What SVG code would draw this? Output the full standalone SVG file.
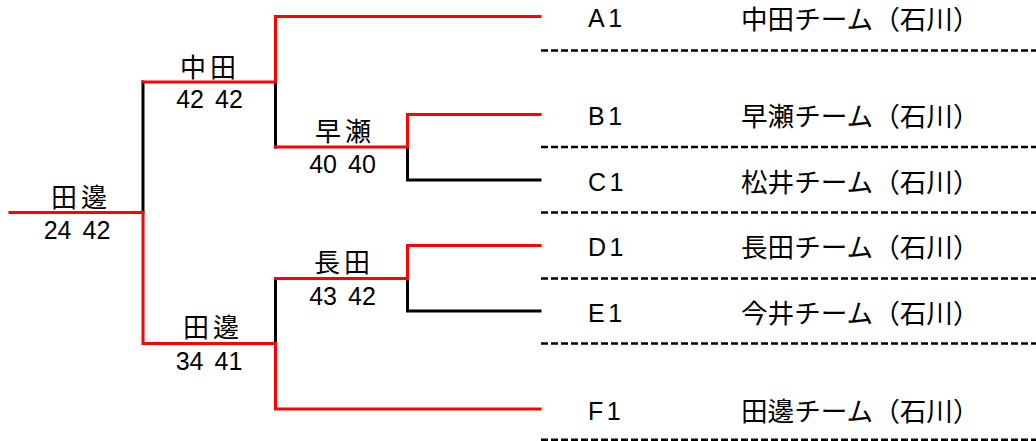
<svg xmlns="http://www.w3.org/2000/svg" width="1036" height="441" viewBox="0 0 1036 441">
<style>
.r{stroke:#FF0000;stroke-width:3;fill:none;stroke-linecap:square}
.k{stroke:#000000;stroke-width:3;fill:none;stroke-linecap:square}
.d{stroke:#000000;stroke-width:2.5;fill:none;stroke-dasharray:7 3}
.nm{font-family:"Liberation Sans","Noto Sans CJK JP",sans-serif;font-size:26px;letter-spacing:4px;text-anchor:middle;fill:#000}
.sc{font-family:"Liberation Sans","Noto Sans CJK JP",sans-serif;font-size:25px;word-spacing:4px;text-anchor:middle;fill:#000}
.cd{font-family:"Liberation Sans",sans-serif;font-size:25px;letter-spacing:3.5px;fill:#000}
.tm{font-family:"Noto Sans CJK JP",sans-serif;font-size:26.6px;fill:#000}
</style>
<rect width="1036" height="441" fill="#ffffff"/>
<g id="connectors">
<path class="k" d="M143 82V212"/>
<path class="k" d="M275.5 82V147"/>
<path class="k" d="M407.5 147V180H540"/>
<path class="k" d="M275.5 278.5V343"/>
<path class="k" d="M407.5 278.5V311H540"/>
<path class="r" d="M10 212.5H143V343.5H275.5"/>
<path class="r" d="M143 82H275.5V16.5H540"/>
<path class="r" d="M275.5 147H407.5V114.5H540"/>
<path class="r" d="M275.5 278.5H407.5V245.5H540"/>
<path class="r" d="M275.5 343.5V409H540"/>
</g>
<g id="separators">
<path class="d" d="M541 50.5H1036"/>
<path class="d" d="M541 147H1036"/>
<path class="d" d="M541 212.5H1036"/>
<path class="d" d="M541 278.5H1036"/>
<path class="d" d="M541 343.5H1036"/>
<path class="d" d="M541 439.7H1036"/>
</g>
<g id="match-final">
<text class="nm" x="81" y="206.5">田邊</text>
<text class="sc" x="77" y="239">24 42</text>
</g>
<g id="match-semi-top">
<text class="nm" x="210" y="76.5">中田</text>
<text class="sc" x="209.5" y="108">42 42</text>
</g>
<g id="match-qf-hayase">
<text class="nm" x="345" y="141">早瀬</text>
<text class="sc" x="342.5" y="173">40 40</text>
</g>
<g id="match-qf-osada">
<text class="nm" x="344" y="272">長田</text>
<text class="sc" x="342.5" y="304.5">43 42</text>
</g>
<g id="match-semi-bottom">
<text class="nm" x="213" y="337">田邊</text>
<text class="sc" x="209" y="369.5">34 41</text>
</g>
<g id="team-A1">
<text class="cd" x="588" y="27">A1</text>
<text class="tm" x="741" y="28.5">中田チーム（石川）</text>
</g>
<g id="team-B1">
<text class="cd" x="588" y="125">B1</text>
<text class="tm" x="741" y="126">早瀬チーム（石川）</text>
</g>
<g id="team-C1">
<text class="cd" x="588" y="190.5">C1</text>
<text class="tm" x="741" y="191.5">松井チーム（石川）</text>
</g>
<g id="team-D1">
<text class="cd" x="588" y="256">D1</text>
<text class="tm" x="741" y="257">長田チーム（石川）</text>
</g>
<g id="team-E1">
<text class="cd" x="588" y="321.5">E1</text>
<text class="tm" x="741" y="322.5">今井チーム（石川）</text>
</g>
<g id="team-F1">
<text class="cd" x="588" y="419.5">F1</text>
<text class="tm" x="741" y="420.5">田邊チーム（石川）</text>
</g>
</svg>
